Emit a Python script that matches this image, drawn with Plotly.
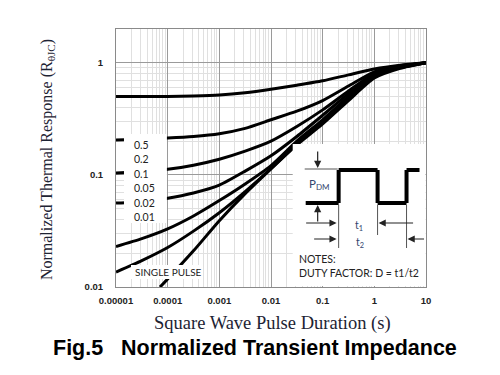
import plotly.graph_objects as go

# ---------------- data ----------------
pulse_s = [0.00001, 0.0000316, 0.0001, 0.000316, 0.001, 0.00316, 0.01,
           0.0316, 0.1, 0.316, 1, 3.16, 10]
d_050 = [0.50, 0.50, 0.50, 0.505, 0.515, 0.54, 0.58, 0.63, 0.69, 0.78, 0.88, 0.95, 1.0]
d_020 = [0.205, 0.208, 0.213, 0.22, 0.233, 0.26, 0.31, 0.37, 0.46, 0.62, 0.83, 0.94, 1.0]
d_010 = [0.104, 0.107, 0.112, 0.122, 0.138, 0.163, 0.20, 0.27, 0.38, 0.56, 0.80, 0.93, 1.0]
d_005 = [0.056, 0.058, 0.062, 0.069, 0.081, 0.108, 0.148, 0.22, 0.34, 0.53, 0.79, 0.92, 1.0]
d_002 = [0.023, 0.027, 0.033, 0.043, 0.059, 0.083, 0.121, 0.2, 0.31, 0.5, 0.77, 0.91, 1.0]
d_001 = [0.0136, 0.0172, 0.0225, 0.0315, 0.046, 0.071, 0.114, 0.19, 0.30, 0.48, 0.76, 0.90, 1.0]
single_s = [0.000071, 0.0001, 0.000316, 0.001, 0.00316, 0.01, 0.0316, 0.1, 0.316, 1, 3.16, 10]
single_z = [0.01, 0.0118, 0.021, 0.039, 0.068, 0.113, 0.185, 0.285, 0.46, 0.73, 0.89, 1.0]

duty_labels = ["0.5", "0.2", "0.1", "0.05", "0.02", "0.01"]
x_tickvals = [0.00001, 0.0001, 0.001, 0.01, 0.1, 1, 10]
x_ticktext = ["0.00001", "0.0001", "0.001", "0.01", "0.1", "1", "10"]
y_tickvals = [0.01, 0.1, 1]
y_ticktext = ["0.01", "0.1", "1"]

# ---------------- geometry helpers (page pixel -> paper) ----------------
OX, OY = 5, 8            # page offset of the figure
L, R, T, B = 113, 423.5, 29, 287
W, H = R - L, B - T
def fx(px): return (px - L) / W
def fy(py): return (B - py) / H

fig = go.Figure()
for ys in [d_050, d_020, d_010, d_005, d_002, d_001]:
    fig.add_trace(go.Scatter(x=pulse_s, y=ys, mode="lines",
                             line=dict(color="black", width=3, shape="spline", smoothing=0.6),
                             showlegend=False, hoverinfo="skip"))
fig.add_trace(go.Scatter(x=single_s, y=single_z, mode="lines",
                         line=dict(color="black", width=3, shape="spline", smoothing=0.6),
                         showlegend=False, hoverinfo="skip"))

shapes = []
annotations = []
def wbox(x0, y0, x1, y1):
    shapes.append(dict(type="rect", xref="paper", yref="paper",
                       x0=fx(x0), x1=fx(x1), y0=fy(y1), y1=fy(y0),
                       fillcolor="white", line=dict(width=0), layer="above"))
wbox(121, 134, 164, 223)
wbox(128, 265, 200, 279)
wbox(290, 144, 423, 286)

def line(x0, y0, x1, y1, w=1.2, c="#333"):
    shapes.append(dict(type="line", xref="paper", yref="paper",
                       x0=fx(x0), y0=fy(y0), x1=fx(x1), y1=fy(y1),
                       line=dict(color=c, width=w), layer="above"))

sq = [(303, 203), (336, 203), (336, 170), (375, 170), (375, 203), (404, 203), (404, 170), (417, 170)]
for (a, b), (c, d) in zip(sq[:-1], sq[1:]):
    line(a, b, c, d, w=4, c="black")
line(302, 169, 335, 169, w=1, c="#555")
line(336, 205, 336, 248, w=1, c="#555")
line(375, 205, 375, 235, w=1, c="#555")
line(404, 205, 404, 248, w=1, c="#555")

def arrow(xh, yh, ax, ay):
    annotations.append(dict(x=fx(xh), y=fy(yh), xref="paper", yref="paper",
                            ax=ax, ay=ay, text="", showarrow=True,
                            arrowhead=2, arrowsize=1.2, arrowwidth=1.2, arrowcolor="#222"))
arrow(315, 168, 0, -18)
arrow(315, 205, 0, 18)
arrow(334, 223, -32, 0)
arrow(376, 223, 36, 0)
arrow(334, 239, -24, 0)
arrow(405, 239, 18, 0)

def txt(px, py, s, size=11, color="#222", xanchor="left", family="Lato", **kw):
    annotations.append(dict(x=fx(px), y=fy(py), xref="paper", yref="paper", text=s,
                            showarrow=False, xanchor=xanchor, yanchor="middle",
                            font=dict(family=family, size=size, color=color), **kw))

for i, lab in enumerate(duty_labels):
    txt(129, 145 + i * 14.4, lab, size=10.5)
txt(130, 272, "SINGLE PULSE", size=10)
txt(304, 184, "P<sub>DM</sub>", size=11.5, color="#34456e")
txt(356, 226, "t<sub>1</sub>", size=10.5, color="#34456e", xanchor="center")
txt(357, 243, "t<sub>2</sub>", size=10.5, color="#34456e", xanchor="center")
txt(294, 259, "NOTES:", size=10.5)
txt(294, 273, "DUTY FACTOR: D = t1/t2", size=10.5)

txt(270, 323, "Square Wave Pulse Duration (s)", size=18.5, color="#1d2333",
    xanchor="center", family="Liberation Serif")
annotations.append(dict(x=fx(44), y=fy(160), xref="paper", yref="paper",
                        text="Normalized Thermal Response (R<sub>θJC</sub>)", textangle=-90,
                        showarrow=False, xanchor="center", yanchor="middle",
                        font=dict(family="Liberation Serif", size=16, color="#1d2333")))
txt(252, 348, "<b>Fig.5   Normalized Transient Impedance</b>", size=21.5, color="black",
    xanchor="center", family="Liberation Sans")

axis_common = dict(type="log", showline=True, mirror=True, linecolor="#8a8a8a", linewidth=1,
                   showgrid=True, gridcolor="#9a9a9a", gridwidth=1, ticks="", zeroline=False,
                   tickfont=dict(family="Liberation Sans", size=9.5, color="#222", weight="bold"),
                   minor=dict(dtick="D1", showgrid=True, gridcolor="#e0e0e0", gridwidth=1, ticks=""))

fig.update_xaxes(**axis_common, range=[-5, 1], tickvals=x_tickvals, ticktext=x_ticktext,
                 ticklabelstandoff=5)
fig.update_yaxes(**axis_common, range=[-2, 0.30103], tickvals=y_tickvals, ticktext=y_ticktext,
                 ticklabelstandoff=10)

fig.update_layout(width=500, height=375,
                  margin=dict(l=L - OX, r=500 + OX - R, t=T - OY, b=375 + OY - B),
                  paper_bgcolor="white", plot_bgcolor="white", showlegend=False,
                  shapes=shapes, annotations=annotations)
fig.write_html("out.html")
